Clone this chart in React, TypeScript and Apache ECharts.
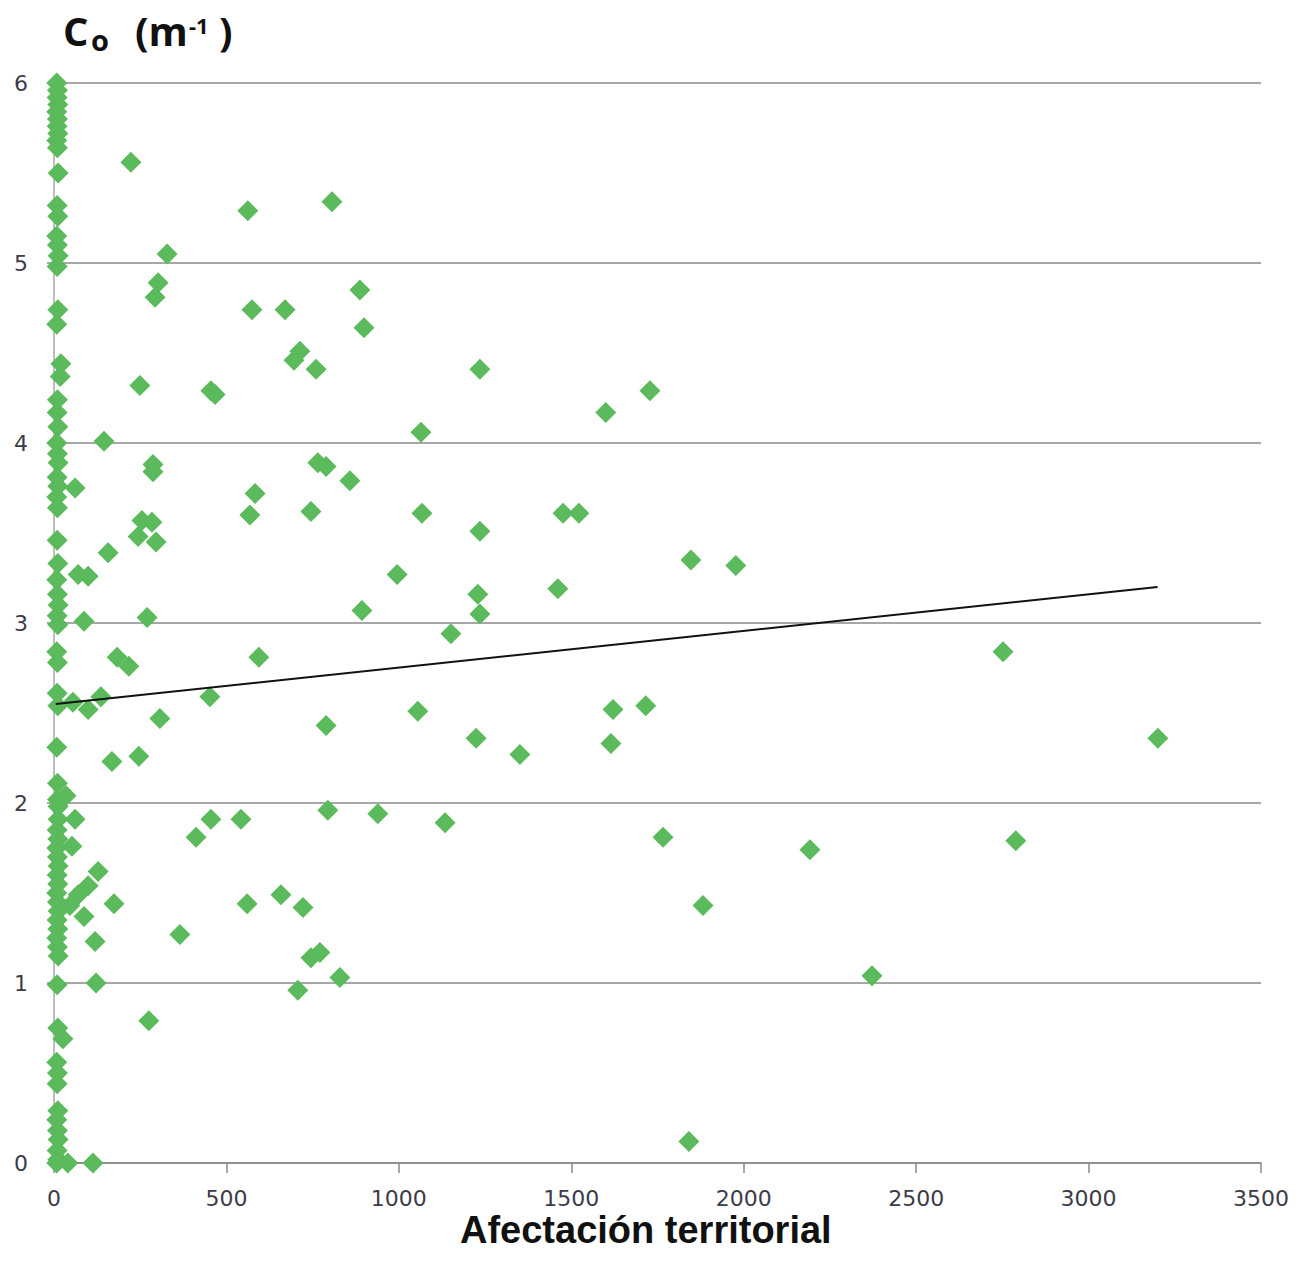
import React, { useEffect, useRef } from "react";
import * as echarts from "echarts";

// Afectación territorial (x) vs Co (y)
const columnX = [8, 10, 9, 11, 8, 10, 9, 11, 8, 10, 12, 9, 11, 8, 10, 12, 9, 11, 8, 20, 18, 10, 9, 11, 8, 10, 12, 9, 11, 8, 10, 9, 11, 8, 10, 12, 9, 11, 8, 10, 9, 11, 8, 10, 12, 9, 11, 8, 10, 12, 9, 11, 8, 10, 12, 9, 11, 8, 10, 12, 9, 11, 8, 10, 9, 11, 8, 10, 12, 9, 11, 8, 10, 12];
const columnY = [6.0, 5.96, 5.92, 5.88, 5.84, 5.8, 5.76, 5.72, 5.68, 5.64, 5.5, 5.32, 5.26, 5.15, 5.1, 5.04, 4.98, 4.74, 4.66, 4.44, 4.37, 4.24, 4.17, 4.09, 4.0, 3.94, 3.89, 3.81, 3.76, 3.7, 3.64, 3.46, 3.33, 3.24, 3.16, 3.1, 3.04, 2.99, 2.84, 2.78, 2.61, 2.54, 2.31, 2.11, 1.98, 1.85, 1.8, 1.75, 1.7, 1.65, 1.6, 1.55, 1.5, 1.45, 1.4, 1.35, 1.3, 1.25, 1.2, 1.15, 0.99, 0.75, 0.56, 0.5, 0.44, 0.29, 0.24, 0.18, 0.13, 0.07, 0.02, 0.0, 2.02, 1.91];

const scatterX = [223, 328, 302, 293, 562, 806, 887, 899, 574, 670, 713, 696, 760, 249, 455, 467, 1235, 1728, 1600, 1064, 145, 287, 287, 765, 789, 858, 583, 61, 255, 284, 244, 296, 568, 745, 1067, 1476, 1522, 1235, 157, 70, 99, 995, 1847, 1977, 1461, 1229, 1235, 893, 270, 87, 1151, 183, 217, 594, 2752, 136, 452, 55, 99, 1055, 1621, 1716, 307, 789, 1224, 1615, 3201, 1351, 168, 246, 35, 794, 939, 455, 542, 1134, 412, 1766, 2789, 2192, 52, 61, 128, 99, 70, 46, 174, 560, 658, 722, 1882, 87, 365, 119, 745, 771, 122, 829, 2372, 707, 275, 1841, 113, 40, 26];
const scatterY = [5.56, 5.05, 4.89, 4.81, 5.29, 5.34, 4.85, 4.64, 4.74, 4.74, 4.51, 4.46, 4.41, 4.32, 4.29, 4.27, 4.41, 4.29, 4.17, 4.06, 4.01, 3.88, 3.84, 3.89, 3.87, 3.79, 3.72, 3.75, 3.57, 3.56, 3.48, 3.45, 3.6, 3.62, 3.61, 3.61, 3.61, 3.51, 3.39, 3.27, 3.26, 3.27, 3.35, 3.32, 3.19, 3.16, 3.05, 3.07, 3.03, 3.01, 2.94, 2.81, 2.76, 2.81, 2.84, 2.59, 2.59, 2.56, 2.52, 2.51, 2.52, 2.54, 2.47, 2.43, 2.36, 2.33, 2.36, 2.27, 2.23, 2.26, 2.04, 1.96, 1.94, 1.91, 1.91, 1.89, 1.81, 1.81, 1.79, 1.74, 1.76, 1.91, 1.62, 1.54, 1.49, 1.43, 1.44, 1.44, 1.49, 1.42, 1.43, 1.37, 1.27, 1.23, 1.14, 1.17, 1.0, 1.03, 1.04, 0.96, 0.79, 0.12, 0.0, 0.0, 0.69];

const trendX = [5, 3200];
const trendY = [2.55, 3.2];

const xTicks = { min: 0, max: 3500, interval: 500 };
const yTicks = { min: 0, max: 6, interval: 1 };

export default function App() {
  const ref = useRef<HTMLDivElement>(null);
  useEffect(() => {
    if (!ref.current) return;
    document.body.style.margin = "0";
    const chart = echarts.init(ref.current, null, { renderer: "svg" });
    const pts: number[][] = [];
    columnX.forEach((x, i) => pts.push([x, columnY[i]]));
    scatterX.forEach((x, i) => pts.push([x, scatterY[i]]));
    const labelStyle = {
      color: "#3c3c48",
      fontFamily: "DejaVu Sans",
      fontSize: 22,
      formatter: (v: number) => String(v),
    };
    chart.setOption({
      animation: false,
      backgroundColor: "#ffffff",
      grid: { left: 54, right: 36, top: 83, bottom: 114 },
      xAxis: {
        type: "value",
        min: xTicks.min,
        max: xTicks.max,
        interval: xTicks.interval,
        axisLine: { show: true, lineStyle: { color: "#8a8a8a", width: 1.5 } },
        axisTick: { show: true, length: 10, lineStyle: { color: "#8a8a8a", width: 1.5 } },
        splitLine: { show: false },
        axisLabel: { ...labelStyle, margin: 24 },
      },
      yAxis: {
        type: "value",
        min: yTicks.min,
        max: yTicks.max,
        interval: yTicks.interval,
        axisLine: { show: true, lineStyle: { color: "#a8a8a8", width: 1.5 } },
        axisTick: { show: true, length: 7, lineStyle: { color: "#8a8a8a", width: 1.5 } },
        splitLine: { show: true, lineStyle: { color: "#8a8a8a", width: 1.5 } },
        axisLabel: { ...labelStyle, margin: 26 },
      },
      series: [
        {
          type: "scatter",
          data: pts,
          symbol: "diamond",
          symbolSize: 21,
          itemStyle: { color: "#5bba5b", opacity: 1 },
          z: 2,
        },
        {
          type: "line",
          data: trendX.map((x, i) => [x, trendY[i]]),
          showSymbol: false,
          symbol: "none",
          lineStyle: { color: "#111111", width: 2 },
          z: 3,
        },
      ],
      graphic: [
        { type: "text", left: 63, top: 10, style: { text: "C", font: 'bold 40px "Open Sans"', fill: "#111" } },
        { type: "text", left: 91, top: 25, style: { text: "o", font: 'bold 29px "Open Sans"', fill: "#111" } },
        { type: "text", left: 135, top: 10, style: { text: "(m", font: 'bold 40px "Open Sans"', fill: "#111" } },
        { type: "text", left: 189, top: 14, style: { text: "-1", font: 'bold 22px "Open Sans"', fill: "#111" } },
        { type: "text", left: 219, top: 10, style: { text: ")", font: 'bold 40px "Open Sans"', fill: "#111" } },
        {
          type: "text",
          left: 460,
          top: 1211,
          style: { text: "Afectación territorial", font: 'bold 38px "Liberation Sans"', fill: "#111" },
        },
      ],
    });
    return () => chart.dispose();
  }, []);
  return <div ref={ref} style={{ width: 1297, height: 1277 }} />;
}
